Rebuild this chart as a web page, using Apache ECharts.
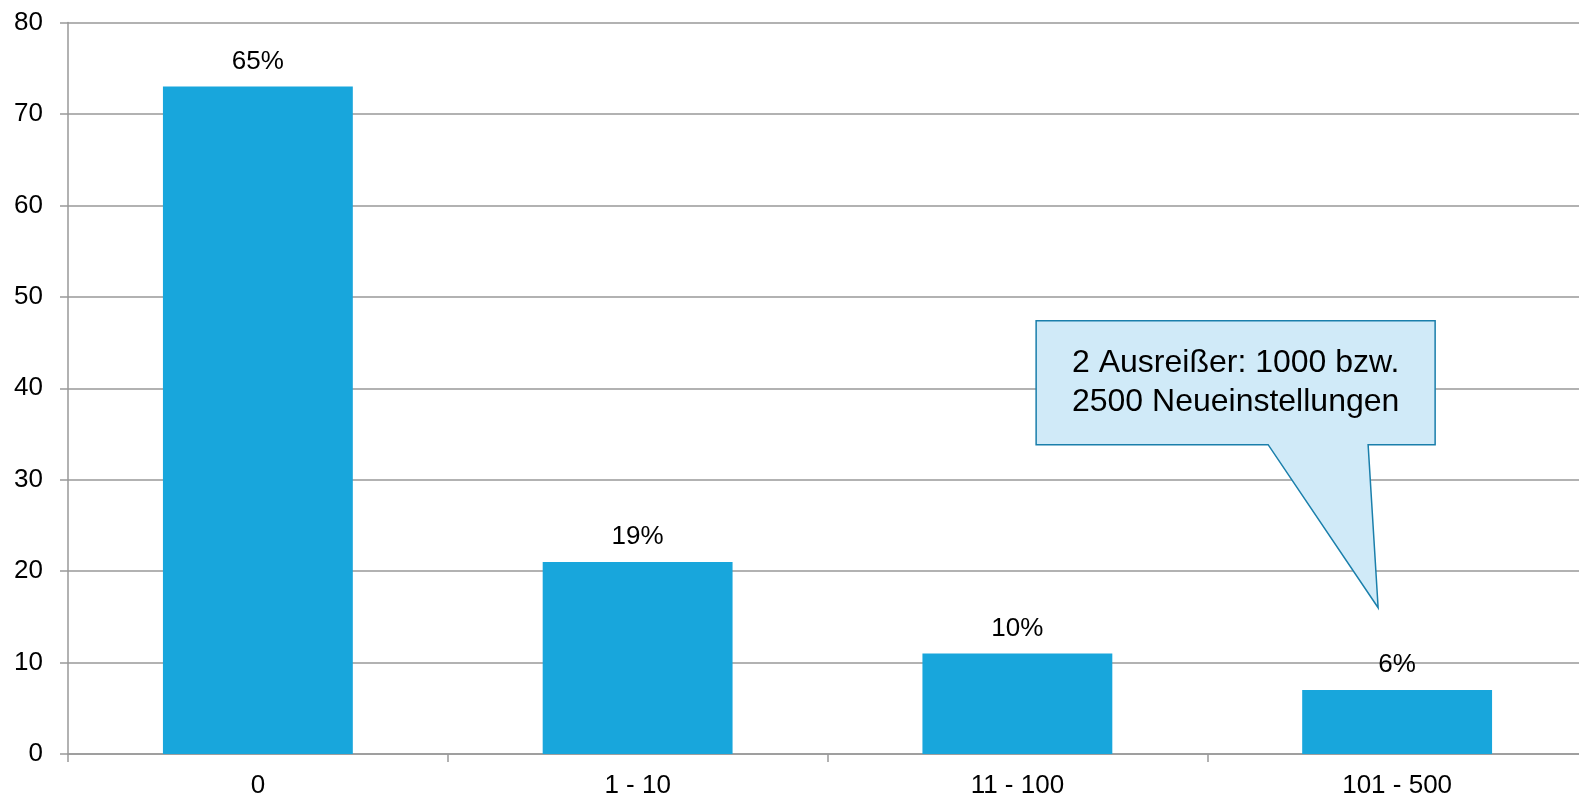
<!DOCTYPE html>
<html><head><meta charset="utf-8">
<script src="https://cdn.jsdelivr.net/npm/echarts@6/dist/echarts.min.js"></script>
<style>html,body{margin:0;padding:0;background:#fff}#c{width:1579px;height:799px}</style>
</head><body><div id="c"></div>
<script>
const categories = ['0', '1 - 10', '11 - 100', '101 - 500'];
const counts = [73, 21, 11, 7];
const shareLabels = ['65%', '19%', '10%', '6%'];
const yTicks = [0, 10, 20, 30, 40, 50, 60, 70, 80];
const calloutLines = ['2 Ausreißer: 1000 bzw.', '2500 Neueinstellungen'];
const calloutTarget = { category: '101 - 500', value: 16 };

const FONT = 'Liberation Sans';
const chart = echarts.init(document.getElementById('c'));
chart.setOption({
  animation: false,
  grid: { left: 68, width: 1519, top: 22.5, height: 731.5, containLabel: false, outerBoundsMode: 'none' },
  xAxis: {
    type: 'category', data: categories,
    axisLine: { show: true, lineStyle: { color: '#999', width: 1.5 } },
    axisTick: { show: true, length: 8, lineStyle: { color: '#999', width: 1.5 } },
    axisLabel: { color: '#000', fontSize: 26, fontFamily: FONT, margin: 19 }
  },
  yAxis: {
    type: 'value', min: yTicks[0], max: yTicks[yTicks.length - 1], interval: 10,
    axisLine: { show: true, lineStyle: { color: '#999', width: 1.5 } },
    axisTick: { show: true, length: 8, lineStyle: { color: '#999', width: 1.5 } },
    splitLine: { show: true, lineStyle: { color: '#999', width: 1.5 } },
    axisLabel: { color: '#000', fontSize: 26, fontFamily: FONT, margin: 25 }
  },
  series: [{
    type: 'bar', data: counts, barWidth: '50%',
    itemStyle: { color: '#18a6dc' },
    label: {
      show: true, position: 'top', distance: 12, color: '#000',
      fontSize: 26, fontFamily: FONT,
      formatter: p => shareLabels[p.dataIndex]
    }
  }]
});

const c = chart.convertToPixel({ xAxisIndex: 0, yAxisIndex: 0 }, [calloutTarget.category, calloutTarget.value]);
const tip = [c[0] - 19, c[1]];
const bw = 399, bh = 124;
const bx = tip[0] - 342, by = tip[1] - 287;
const pts = [
  [bx, by], [bx + bw, by], [bx + bw, by + bh],
  [tip[0] - 10, by + bh], [tip[0], tip[1]], [tip[0] - 110, by + bh],
  [bx, by + bh]
];
chart.setOption({
  graphic: [
    { type: 'polygon', shape: { points: pts },
      style: { fill: '#d0eaf8', stroke: '#1a7fab', lineWidth: 1.5 }, z: 100 },
    { type: 'text', x: bx + bw / 2, y: by + bh / 2,
      style: { text: calloutLines.join('\n'), fill: '#000', fontSize: 32, fontFamily: FONT,
               align: 'center', verticalAlign: 'middle', lineHeight: 39 }, z: 101 }
  ]
});
</script></body></html>
